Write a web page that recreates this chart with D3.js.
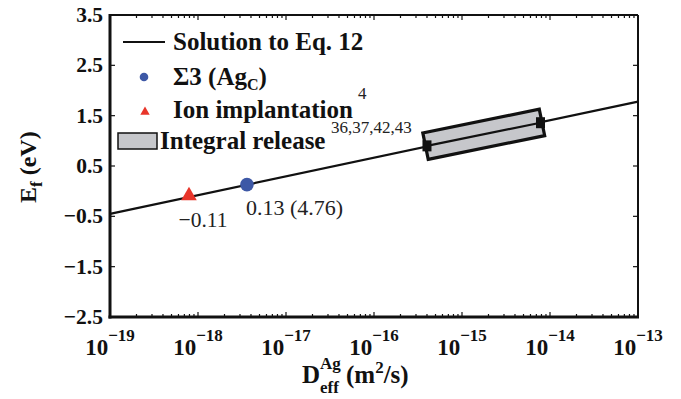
<!DOCTYPE html>
<html><head><meta charset="utf-8">
<script src="https://cdnjs.cloudflare.com/ajax/libs/d3/7.8.5/d3.min.js"></script>
<style>
html,body{margin:0;padding:0;background:#fff;}
svg{display:block;font-family:"Liberation Serif","Times New Roman",serif;}
</style></head>
<body><svg id="c" width="681" height="399"></svg>
<script>
// ---- data ----
const yTicks = [-2.5, -1.5, -0.5, 0.5, 1.5, 2.5, 3.5];
const yTickLabels = ["\u22122.5", "\u22121.5", "\u22120.5", "0.5", "1.5", "2.5", "3.5"];
const xTickExps = [-19, -18, -17, -16, -15, -14, -13];
const solutionD = [1e-19, 1e-13];
const solutionE = [-0.45, 1.78];
const ionD = [7.9e-19];
const ionE = [-0.11];
const sigmaD = [3.6e-18];
const sigmaE = [0.13];
const releaseD = [4.0e-16, 7.8e-15];
const releaseE = [0.90, 1.36];
const legendLabels = ["Solution to Eq. 12", "\u03A33 (Ag", "Ion implantation", "Integral release"];

const svg = d3.select("#c");
const L = 110, R = 638, T = 15, B = 317;
const x = d3.scaleLog().domain([1e-19, 1e-13]).range([L, R]);
const y = d3.scaleLinear().domain([-2.5, 3.5]).range([B, T]);
const red = "#e8352a", blue = "#3d58a6", grayFill = "#c6c7cb";

// minor + major ticks on bottom/top
const minors = [];
for (let e = -19; e < -13; e++) for (let m = 2; m <= 9; m++) minors.push(m * Math.pow(10, e));
const tk = svg.append("g").attr("stroke", "#111").attr("stroke-width", 1.2);
minors.forEach(v => {
  tk.append("line").attr("x1", x(v)).attr("x2", x(v)).attr("y1", B).attr("y2", B - 3);
  tk.append("line").attr("x1", x(v)).attr("x2", x(v)).attr("y1", T).attr("y2", T + 3);
});
xTickExps.forEach(e => {
  const v = Math.pow(10, e);
  tk.append("line").attr("x1", x(v)).attr("x2", x(v)).attr("y1", B).attr("y2", B - 5);
  tk.append("line").attr("x1", x(v)).attr("x2", x(v)).attr("y1", T).attr("y2", T + 5);
});
yTicks.forEach(v => {
  tk.append("line").attr("x1", L).attr("x2", L + 5).attr("y1", y(v)).attr("y2", y(v));
  tk.append("line").attr("x1", R).attr("x2", R - 5).attr("y1", y(v)).attr("y2", y(v));
});

// frame
svg.append("line").attr("x1", L).attr("x2", R).attr("y1", T).attr("y2", T).attr("stroke", "#111").attr("stroke-width", 2);
svg.append("line").attr("x1", R).attr("x2", R).attr("y1", T).attr("y2", B).attr("stroke", "#111").attr("stroke-width", 2);
svg.append("line").attr("x1", L).attr("x2", L).attr("y1", T - 1).attr("y2", B + 1.5).attr("stroke", "#111").attr("stroke-width", 3);
svg.append("line").attr("x1", L - 1.5).attr("x2", R + 1).attr("y1", B).attr("y2", B).attr("stroke", "#111").attr("stroke-width", 3);

// y tick labels
yTicks.forEach((v, i) => {
  svg.append("text").attr("x", L - 7).attr("y", y(v) + 7).attr("text-anchor", "end")
    .attr("font-size", 21.5).attr("font-weight", "bold").attr("fill", "#111").text(yTickLabels[i]);
});
// x tick labels
xTickExps.forEach(e => {
  const t = svg.append("text").attr("x", x(Math.pow(10, e))).attr("y", 355).attr("text-anchor", "middle")
    .attr("font-weight", "bold").attr("fill", "#111");
  t.append("tspan").attr("font-size", 23).text("10");
  t.append("tspan").attr("font-size", 17).attr("dy", -14).text("\u2212" + Math.abs(e));
});

// solution line
const line = d3.line().x(d => x(d[0])).y(d => y(d[1]));
svg.append("path").datum(solutionD.map((d, i) => [d, solutionE[i]])).attr("d", line)
  .attr("fill", "none").attr("stroke", "#111").attr("stroke-width", 2.2);

// integral release box (rotated rectangle around the segment)
const p0 = [x(releaseD[0]), y(releaseE[0])], p1 = [x(releaseD[1]), y(releaseE[1])];
const dx = p1[0] - p0[0], dy = p1[1] - p0[1], len = Math.hypot(dx, dy);
const ux = dx / len, uy = dy / len, nx = -uy, ny = ux;
const hw = 13.5, ext = 1.5;
const corners = [
  [p0[0] - ux * ext + nx * hw, p0[1] - uy * ext + ny * hw],
  [p1[0] + ux * ext + nx * hw, p1[1] + uy * ext + ny * hw],
  [p1[0] + ux * ext - nx * hw, p1[1] + uy * ext - ny * hw],
  [p0[0] - ux * ext - nx * hw, p0[1] - uy * ext - ny * hw]
];
svg.append("polygon").attr("points", corners.map(c => c.join(",")).join(" "))
  .attr("fill", grayFill).attr("stroke", "#111").attr("stroke-width", 3.2).attr("stroke-linejoin", "miter");
svg.append("path").datum(releaseD.map((d, i) => [d, releaseE[i]])).attr("d", line)
  .attr("fill", "none").attr("stroke", "#111").attr("stroke-width", 2.2);
releaseD.forEach((d, i) => {
  svg.append("rect").attr("x", x(d) - 4.5).attr("y", y(releaseE[i]) - 5.5).attr("width", 9).attr("height", 11).attr("fill", "#111");
});

// ion implantation triangle
ionD.forEach((d, i) => {
  svg.append("path").attr("d", d3.symbol().type(d3.symbolTriangle).size(105)())
    .attr("transform", `translate(${x(d)},${y(ionE[i]) - 1})`).attr("fill", red);
});
// sigma3 circle
sigmaD.forEach((d, i) => {
  svg.append("circle").attr("cx", x(d)).attr("cy", y(sigmaE[i])).attr("r", 6.8).attr("fill", blue);
});

// annotations
svg.append("text").attr("x", x(ionD[0]) + 14).attr("y", 227).attr("text-anchor", "middle")
  .attr("font-size", 21.5).attr("fill", "#222").text("\u22120.11");
svg.append("text").attr("x", x(sigmaD[0]) - 1).attr("y", 215).attr("text-anchor", "start")
  .attr("font-size", 22).attr("fill", "#222").text("0.13 (4.76)");

// legend
const lg = svg.append("g").attr("font-weight", "bold").attr("font-size", 25).attr("fill", "#111");
lg.append("line").attr("x1", 123).attr("x2", 165).attr("y1", 42).attr("y2", 42).attr("stroke", "#111").attr("stroke-width", 2.2);
lg.append("text").attr("x", 173).attr("y", 50).text(legendLabels[0]);
lg.append("circle").attr("cx", 144).attr("cy", 77).attr("r", 4.3).attr("fill", blue);
const t2 = lg.append("text").attr("x", 173).attr("y", 85);
t2.append("tspan").text(legendLabels[1]);
t2.append("tspan").attr("font-size", 16).attr("dy", 5).text("C");
t2.append("tspan").attr("dy", -5).text(")");
lg.append("path").attr("d", d3.symbol().type(d3.symbolTriangle).size(38)())
  .attr("transform", "translate(145,112)").attr("fill", red);
lg.append("text").attr("x", 173).attr("y", 118).text(legendLabels[2]);
lg.append("rect").attr("x", 118).attr("y", 133).attr("width", 39).attr("height", 16)
  .attr("fill", grayFill).attr("stroke", "#111").attr("stroke-width", 1.5);
lg.append("text").attr("x", 160).attr("y", 149).text(legendLabels[3]);
svg.append("text").attr("x", 358).attr("y", 99).attr("font-size", 17).attr("fill", "#222").text("4");
svg.append("text").attr("x", 331).attr("y", 133).attr("font-size", 17).attr("fill", "#222").text("36,37,42,43");

// axis labels
const xl = svg.append("text").attr("x", 302).attr("y", 383).attr("font-weight", "bold").attr("fill", "#111");
xl.append("tspan").attr("font-size", 25).text("D");
xl.append("tspan").attr("font-size", 17).attr("dy", -14).text("Ag");
xl.append("tspan").attr("font-size", 17).attr("x", 320).attr("dy", 24).text("eff");
xl.append("tspan").attr("font-size", 25).attr("x", 346).attr("dy", -10).text("(m");
xl.append("tspan").attr("font-size", 17).attr("dy", -10).text("2");
xl.append("tspan").attr("font-size", 25).attr("dy", 10).text("/s)");

const yl = svg.append("text").attr("transform", "translate(36,203) rotate(-90)")
  .attr("font-weight", "bold").attr("fill", "#111");
yl.append("tspan").attr("font-size", 24).text("E");
yl.append("tspan").attr("font-size", 17).attr("dy", 6).text("f");
yl.append("tspan").attr("font-size", 24).attr("dy", -6).text(" (eV)");
</script></body></html>
